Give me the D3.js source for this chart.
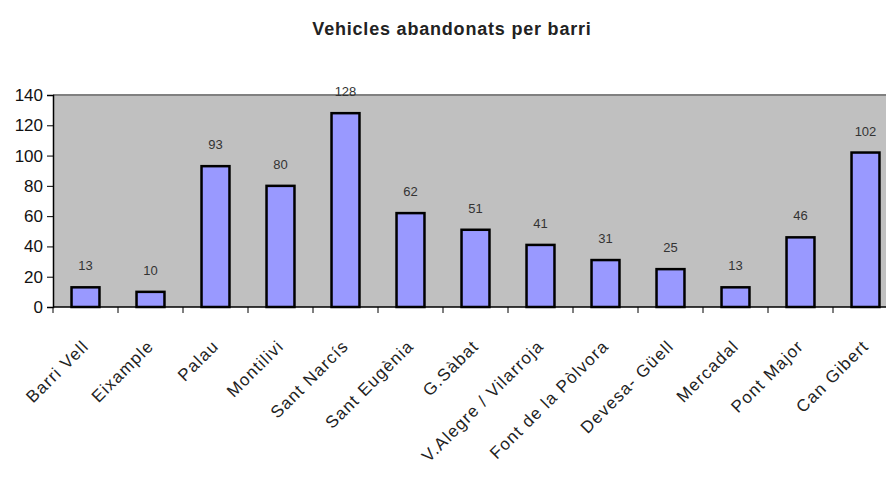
<!DOCTYPE html>
<html>
<head>
<meta charset="utf-8">
<script src="https://cdn.jsdelivr.net/npm/d3@7"></script>
<style>
  body { margin: 0; background: #fff; }
  svg { display: block; font-family: "Liberation Sans Narrow", "Liberation Sans", Arial, sans-serif; }
</style>
</head>
<body>
<div id="chart"></div>
<script>
const barris = ['Barri Vell', 'Eixample', 'Palau', 'Montilivi', 'Sant Narcís', 'Sant Eugènia', 'G.Sàbat',
  'V.Alegre / Vilarroja', 'Font de la Pòlvora', 'Devesa- Güell', 'Mercadal', 'Pont Major', 'Can Gibert']
const vehicles = [13, 10, 93, 80, 128, 62, 51, 41, 31, 25, 13, 46, 102]
const yTicks = [0, 20, 40, 60, 80, 100, 120, 140]

const w = 886
const h = 484
const margin = { top: 95, right: -12, bottom: 177, left: 53 }

const svg = d3.select('#chart')
  .append('svg')
  .attr('width', w)
  .attr('height', h)

const x = d3.scaleBand()
  .domain(barris)
  .range([margin.left, w - margin.right])
  .paddingInner(0.57)
  .paddingOuter(0.285)

const y = d3.scaleLinear()
  .domain([0, 140])
  .range([h - margin.bottom, margin.top])

// plot background
svg.append('rect')
  .attr('x', margin.left)
  .attr('y', margin.top)
  .attr('width', w - margin.right - margin.left)
  .attr('height', y(0) - margin.top)
  .attr('fill', '#c0c0c0')

svg.append('line')
  .attr('x1', margin.left).attr('x2', w)
  .attr('y1', margin.top).attr('y2', margin.top)
  .attr('stroke', '#808080')
  .attr('stroke-width', 2)

// title
svg.append('text')
  .attr('x', 452)
  .attr('y', 35)
  .attr('text-anchor', 'middle')
  .attr('font-family', 'Liberation Sans, Arial, sans-serif')
  .attr('font-weight', 'bold')
  .attr('font-size', 18)
  .attr('letter-spacing', 0.8)
  .attr('fill', '#222')
  .text('Vehicles abandonats per barri')

// bars
svg.selectAll('rect.bar')
  .data(vehicles)
  .enter()
  .append('rect')
  .attr('class', 'bar')
  .attr('x', (d, i) => x(barris[i]))
  .attr('y', d => y(d))
  .attr('width', x.bandwidth())
  .attr('height', d => y(0) - y(d))
  .attr('fill', '#9999ff')
  .attr('stroke', '#000')
  .attr('stroke-width', 2.5)

// value labels
svg.selectAll('text.val')
  .data(vehicles)
  .enter()
  .append('text')
  .attr('class', 'val')
  .attr('x', (d, i) => x(barris[i]) + x.bandwidth() / 2)
  .attr('y', d => y(d) - 17)
  .attr('text-anchor', 'middle')
  .attr('font-size', 13)
  .attr('fill', '#333')
  .text(d => d)

// y axis
const yAxis = svg.append('g')
  .attr('transform', `translate(${margin.left},0)`)
  .call(d3.axisLeft(y).tickValues(yTicks).tickSize(6).tickPadding(4))
yAxis.select('.domain').attr('stroke', '#000').attr('stroke-width', 1.5)
yAxis.selectAll('text').attr('font-size', 17).attr('fill', '#111')
  .attr('font-family', 'Liberation Sans Narrow, Liberation Sans, Arial, sans-serif')

// x axis with ticks at category boundaries
const xAxis = svg.append('g')
  .attr('transform', `translate(0,${y(0)})`)
xAxis.append('line')
  .attr('x1', margin.left).attr('x2', w)
  .attr('stroke', '#000').attr('stroke-width', 1.5)
const step = x.step()
xAxis.selectAll('line.tick')
  .data(barris)
  .enter()
  .append('line')
  .attr('class', 'tick')
  .attr('x1', d => x(d) - x.paddingOuter() * step)
  .attr('x2', d => x(d) - x.paddingOuter() * step)
  .attr('y1', 0).attr('y2', 6)
  .attr('stroke', '#000')

xAxis.selectAll('text')
  .data(barris)
  .enter()
  .append('text')
  .attr('transform', d => `translate(${x(d) + x.bandwidth() / 2},${36}) rotate(-45)`)
  .attr('text-anchor', 'end')
  .attr('dy', '0.35em')
  .attr('font-size', 17)
  .attr('letter-spacing', 1.2)
  .attr('fill', '#222')
  .text(d => d)
</script>
</body>
</html>
